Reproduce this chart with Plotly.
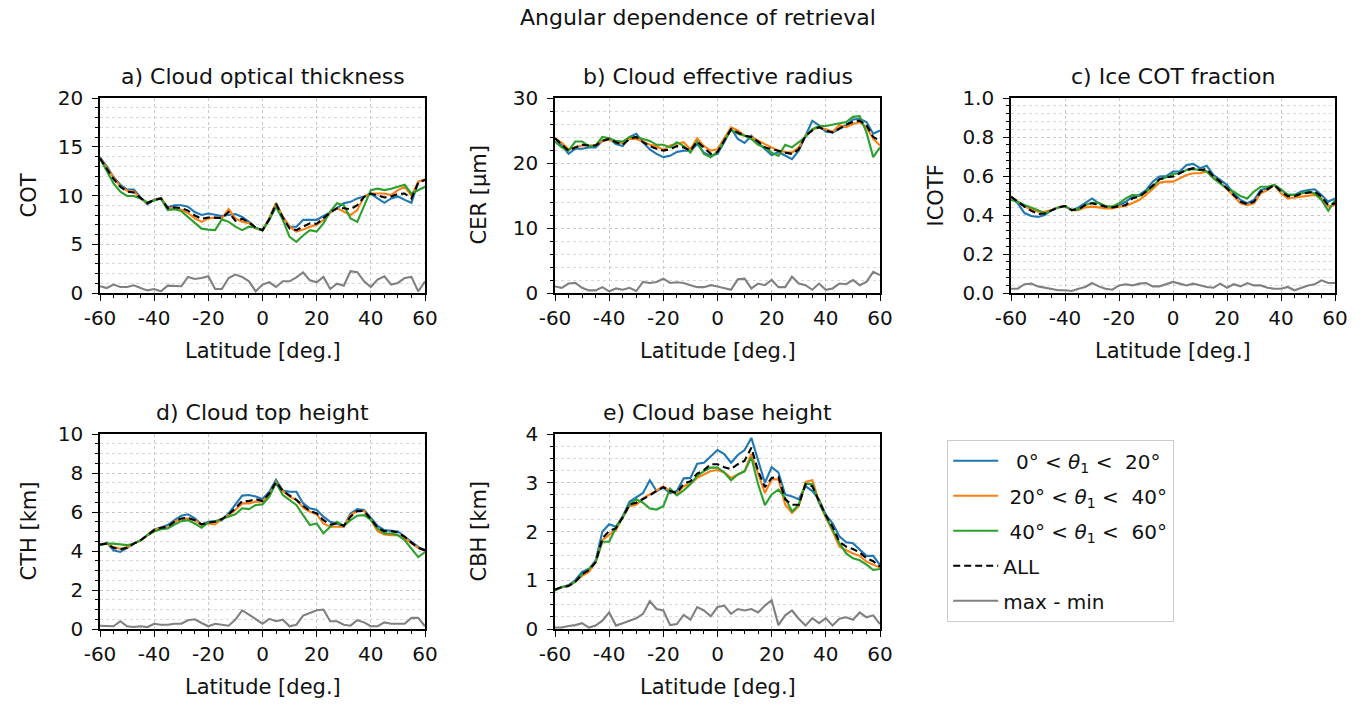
import plotly.graph_objects as go

W, H = 1366, 707

lat = [-60, -57.5, -55, -52.5, -50, -47.5, -45, -42.5, -40, -37.5, -35, -32.5, -30,
       -27.5, -25, -22.5, -20, -17.5, -15, -12.5, -10, -7.5, -5, -2.5, 0,
       2.5, 5, 7.5, 10, 12.5, 15, 17.5, 20, 22.5, 25, 27.5, 30, 32.5, 35,
       37.5, 40, 42.5, 45, 47.5, 50, 52.5, 55, 57.5, 60]

x_ticks = [-60, -40, -20, 0, 20, 40, 60]
x_ticklabels = ["-60", "-40", "-20", "0", "20", "40", "60"]

series_names = ["\u00a0\u00a00° &lt; <i>θ</i><sub>1</sub> &lt;\u00a0\u00a020°",
                "\u00a020° &lt; <i>θ</i><sub>1</sub> &lt;\u00a0\u00a040°",
                "\u00a040° &lt; <i>θ</i><sub>1</sub> &lt;\u00a0\u00a060°",
                "ALL", "max - min"]

# ---- a) COT ----
cot_0_20 = [13.9, 13.0, 11.9, 11.1, 10.6, 10.6, 9.8, 9.1, 9.6, 9.7, 8.8, 9.0, 9.0,
            8.85, 8.3, 8.0, 8.15, 8.0, 7.9, 8.0, 8.1, 7.8, 7.3, 6.7, 6.45,
            7.65, 9.2, 7.8, 6.8, 6.8, 7.5, 7.5, 7.5, 7.9, 8.25, 8.7, 9.2, 9.35, 9.7,
            9.9, 10.2, 9.7, 9.25, 9.7, 9.9, 9.55, 9.25, 11.4, 11.65]
cot_20_40 = [13.8, 12.8, 11.8, 10.9, 10.5, 10.4, 9.7, 9.2, 9.55, 9.75, 8.7, 8.75, 8.55,
             8.2, 7.65, 7.3, 7.65, 7.75, 7.65, 8.6, 7.65, 7.3, 7.15, 6.6, 6.45,
             7.65, 9.2, 7.8, 6.8, 6.3, 6.5, 6.8, 7.0, 7.5, 8.25, 8.7, 8.35, 8.0, 8.5,
             9.9, 10.2, 10.2, 10.2, 10.05, 10.55, 10.9, 9.95, 11.4, 11.65]
cot_40_60 = [13.8, 12.5, 11.25, 10.4, 9.95, 9.95, 9.7, 9.3, 9.5, 9.7, 8.5, 8.6, 8.4,
             7.8, 7.15, 6.6, 6.5, 6.45, 7.55, 7.3, 6.8, 6.45, 6.8, 6.7, 6.4,
             7.5, 8.85, 7.5, 5.75, 5.25, 5.9, 6.45, 6.3, 7.15, 8.35, 9.2, 9.0, 7.65, 7.3,
             8.85, 10.55, 10.7, 10.55, 10.7, 10.9, 11.1, 10.2, 10.55, 10.9]
cot_all = [13.8, 12.8, 11.7, 10.9, 10.4, 10.3, 9.7, 9.2, 9.55, 9.7, 8.7, 8.8, 8.7,
           8.45, 7.95, 7.6, 7.75, 7.7, 7.7, 8.3, 7.4, 7.6, 7.25, 6.7, 6.45,
           7.55, 9.15, 7.75, 6.6, 6.45, 6.8, 7.15, 7.1, 7.65, 8.25, 8.7, 8.7, 8.6, 9.0,
           9.85, 10.2, 10.0, 9.8, 9.9, 10.15, 10.2, 9.7, 11.3, 11.6]
cot_range = [0.69, 0.51, 0.86, 0.62, 0.62, 0.79, 0.51, 0.27, 0.41, 0.17, 0.75, 0.75, 0.69,
             1.65, 1.44, 1.54, 1.72, 0.41, 0.41, 1.54, 1.89, 1.65, 1.2, 0.17, 0.86,
             1.1, 0.62, 1.2, 1.2, 1.6, 2.1, 1.3, 1.1, 1.65, 0.41, 0.96, 0.75, 2.23, 2.13,
             1.2, 0.62, 1.37, 1.72, 0.86, 1.03, 1.54, 1.65, 0.17, 1.2]

# ---- b) CER ----
cer_0_20 = [23.8, 22.7, 21.4, 22.2, 22.2, 22.4, 22.4, 23.4, 23.7, 22.9, 22.6, 24.0, 24.5,
            23.2, 22.1, 21.4, 20.9, 21.1, 21.7, 21.9, 21.9, 22.9, 21.6, 21.1, 21.4,
            23.2, 25.3, 23.7, 23.1, 24.2, 23.1, 22.1, 21.2, 21.7, 21.2, 20.6, 21.9, 24.2, 26.5,
            25.8, 24.8, 24.7, 25.3, 25.8, 26.7, 26.8, 26.3, 24.5, 25.0]
cer_20_40 = [23.8, 23.1, 22.1, 22.4, 22.7, 22.7, 22.7, 23.4, 23.6, 23.2, 23.0, 23.7, 23.7,
             23.3, 22.8, 22.6, 22.0, 22.7, 22.9, 23.2, 22.1, 23.8, 22.6, 21.9, 22.1,
             23.7, 25.5, 25.0, 24.2, 24.0, 23.4, 22.9, 22.4, 21.9, 21.7, 21.6, 22.4, 24.2, 25.1,
             25.5, 25.2, 24.8, 25.8, 25.5, 26.0, 26.3, 25.5, 23.7, 22.7]
cer_40_60 = [23.3, 22.4, 21.9, 23.3, 23.3, 22.6, 22.7, 24.0, 23.8, 23.4, 23.3, 24.0, 24.0,
             23.7, 23.4, 22.8, 22.8, 22.4, 23.2, 22.6, 21.6, 23.3, 21.4, 20.9, 21.7,
             23.4, 25.1, 24.5, 24.2, 23.7, 22.8, 22.4, 21.6, 21.1, 22.8, 22.4, 23.2, 24.0, 25.2,
             25.7, 25.7, 25.9, 26.0, 26.3, 27.1, 27.2, 24.7, 20.9, 22.4]
cer_all = [23.8, 22.9, 21.9, 22.4, 22.8, 22.7, 22.7, 23.4, 23.7, 23.2, 22.8, 23.7, 24.0,
           23.2, 22.6, 22.2, 21.9, 22.1, 22.6, 22.4, 21.9, 23.3, 22.4, 21.4, 21.7,
           23.4, 25.2, 24.7, 24.2, 24.0, 23.3, 22.4, 22.1, 21.9, 21.6, 21.4, 22.1, 24.2, 25.0,
           25.5, 25.0, 24.7, 25.3, 25.9, 26.3, 26.5, 25.8, 24.0, 23.4]
cer_range = [1.0, 0.8, 1.45, 1.55, 0.8, 0.4, 0.4, 0.9, 0.25, 0.7, 0.5, 0.8, 0.3,
             1.7, 1.55, 1.7, 2.2, 1.55, 1.65, 1.55, 1.2, 0.9, 0.9, 1.2, 1.0,
             0.7, 0.5, 2.1, 2.2, 0.7, 1.45, 1.2, 2.0, 0.9, 0.9, 2.5, 1.45, 1.2, 0.5,
             1.45, 0.5, 0.7, 1.45, 1.35, 2.0, 1.2, 1.7, 3.25, 2.75]

# ---- c) ICOTF ----
icotf_0_20 = [0.494, 0.46, 0.41, 0.395, 0.39, 0.40, 0.425, 0.439, 0.446, 0.425, 0.439, 0.46, 0.485,
              0.46, 0.443, 0.439, 0.451, 0.468, 0.494, 0.503, 0.528, 0.571, 0.597, 0.60, 0.623,
              0.623, 0.657, 0.662, 0.64, 0.652, 0.605, 0.58, 0.554, 0.511, 0.477, 0.46, 0.477, 0.528, 0.537,
              0.554, 0.528, 0.503, 0.503, 0.52, 0.528, 0.532, 0.503, 0.468, 0.485]
icotf_20_40 = [0.494, 0.468, 0.443, 0.429, 0.417, 0.417, 0.425, 0.439, 0.446, 0.425, 0.425, 0.439, 0.443,
               0.439, 0.434, 0.434, 0.443, 0.446, 0.463, 0.477, 0.503, 0.537, 0.566, 0.571, 0.571,
               0.588, 0.605, 0.614, 0.614, 0.623, 0.593, 0.563, 0.532, 0.497, 0.46, 0.451, 0.46, 0.511, 0.528,
               0.554, 0.511, 0.485, 0.49, 0.494, 0.497, 0.503, 0.485, 0.443, 0.451]
icotf_40_60 = [0.477, 0.468, 0.451, 0.439, 0.425, 0.408, 0.425, 0.439, 0.446, 0.425, 0.43, 0.451, 0.463,
               0.463, 0.446, 0.443, 0.46, 0.485, 0.503, 0.497, 0.52, 0.545, 0.583, 0.593, 0.61,
               0.614, 0.631, 0.635, 0.631, 0.623, 0.588, 0.563, 0.537, 0.52, 0.497, 0.485, 0.52, 0.545, 0.545,
               0.554, 0.532, 0.503, 0.503, 0.51, 0.52, 0.51, 0.477, 0.422, 0.477]
icotf_all = [0.494, 0.468, 0.443, 0.422, 0.405, 0.408, 0.425, 0.439, 0.446, 0.425, 0.43, 0.451, 0.46,
             0.451, 0.443, 0.439, 0.446, 0.451, 0.486, 0.494, 0.52, 0.554, 0.583, 0.593, 0.597,
             0.614, 0.631, 0.64, 0.631, 0.635, 0.597, 0.571, 0.537, 0.503, 0.468, 0.456, 0.468, 0.52, 0.532,
             0.554, 0.52, 0.497, 0.497, 0.508, 0.514, 0.52, 0.494, 0.451, 0.46]
icotf_range = [0.022, 0.022, 0.045, 0.048, 0.034, 0.027, 0.022, 0.014, 0.014, 0.01, 0.022, 0.031, 0.051,
               0.034, 0.022, 0.017, 0.039, 0.045, 0.039, 0.048, 0.051, 0.034, 0.034, 0.045, 0.057,
               0.048, 0.039, 0.048, 0.039, 0.031, 0.027, 0.048, 0.027, 0.045, 0.034, 0.051, 0.039, 0.039, 0.027,
               0.022, 0.022, 0.031, 0.014, 0.027, 0.039, 0.045, 0.065, 0.051, 0.051]

# ---- d) CTH ----
cth_0_20 = [4.33, 4.42, 4.04, 3.95, 4.16, 4.38, 4.55, 4.81, 5.1, 5.2, 5.33, 5.58, 5.81,
            5.88, 5.67, 5.36, 5.5, 5.53, 5.58, 5.93, 6.36, 6.84, 6.87, 6.79, 6.67,
            7.04, 7.65, 7.1, 7.04, 7.04, 6.44, 6.19, 6.1, 5.76, 5.5, 5.41, 5.24, 5.93, 6.15,
            6.1, 5.71, 5.29, 5.07, 5.02, 5.0, 4.73, 4.47, 4.21, 4.04]
cth_20_40 = [4.33, 4.38, 4.2, 4.12, 4.2, 4.38, 4.55, 4.81, 5.07, 5.19, 5.2, 5.5, 5.64,
             5.67, 5.58, 5.33, 5.41, 5.36, 5.64, 5.84, 6.1, 6.44, 6.44, 6.53, 6.53,
             6.9, 7.53, 7.08, 6.79, 6.62, 6.22, 6.01, 5.88, 5.41, 5.24, 5.24, 5.24, 5.84, 6.05,
             6.05, 5.6, 5.02, 4.85, 4.81, 4.81, 4.64, 4.38, 4.16, 4.0]
cth_40_60 = [4.3, 4.38, 4.38, 4.33, 4.3, 4.38, 4.55, 4.81, 5.0, 5.12, 5.15, 5.36, 5.53,
             5.58, 5.41, 5.19, 5.46, 5.53, 5.64, 5.76, 5.88, 6.19, 6.15, 6.36, 6.39,
             6.79, 7.5, 6.87, 6.62, 6.36, 5.84, 5.33, 5.41, 4.9, 5.24, 5.5, 5.29, 5.58, 5.81,
             5.84, 5.6, 5.15, 4.9, 4.9, 4.81, 4.55, 4.12, 3.69, 3.95]
cth_all = [4.33, 4.38, 4.16, 4.09, 4.16, 4.38, 4.55, 4.81, 5.07, 5.19, 5.24, 5.5, 5.67,
           5.7, 5.58, 5.36, 5.46, 5.5, 5.64, 5.88, 6.19, 6.56, 6.56, 6.67, 6.56,
           6.96, 7.53, 7.08, 6.87, 6.62, 6.32, 6.05, 5.93, 5.58, 5.36, 5.41, 5.29, 5.76, 6.05,
           6.05, 5.64, 5.19, 5.02, 5.02, 4.95, 4.73, 4.43, 4.16, 4.04]
cth_range = [0.17, 0.14, 0.14, 0.4, 0.14, 0.1, 0.14, 0.1, 0.27, 0.22, 0.22, 0.27, 0.27,
             0.45, 0.5, 0.31, 0.14, 0.27, 0.22, 0.17, 0.48, 0.95, 0.74, 0.52, 0.27,
             0.52, 0.4, 0.48, 0.14, 0.22, 0.69, 0.82, 0.96, 1.0, 0.4, 0.4, 0.22, 0.17, 0.45,
             0.34, 0.14, 0.14, 0.34, 0.27, 0.27, 0.27, 0.57, 0.57, 0.14]

# ---- e) CBH ----
cbh_0_20 = [0.81, 0.86, 0.9, 1.0, 1.17, 1.23, 1.4, 2.0, 2.15, 2.1, 2.31, 2.61, 2.7,
            2.79, 3.05, 2.83, 2.9, 2.79, 2.83, 3.09, 3.1, 3.39, 3.41, 3.55, 3.67,
            3.59, 3.41, 3.57, 3.67, 3.92, 3.45, 3.0, 3.32, 3.21, 2.76, 2.72, 2.66, 2.93, 2.83,
            2.66, 2.34, 2.17, 1.9, 1.78, 1.76, 1.62, 1.5, 1.5, 1.31]
cbh_20_40 = [0.81, 0.86, 0.88, 0.97, 1.09, 1.17, 1.37, 1.83, 1.93, 2.03, 2.29, 2.52, 2.55,
             2.68, 2.76, 2.84, 2.93, 2.83, 2.76, 2.93, 2.98, 3.1, 3.17, 3.24, 3.26,
             3.21, 3.1, 3.17, 3.24, 3.59, 3.17, 2.79, 3.07, 3.07, 2.55, 2.38, 2.52, 3.02, 3.05,
             2.62, 2.28, 2.01, 1.69, 1.62, 1.55, 1.5, 1.38, 1.32, 1.26]
cbh_40_60 = [0.79, 0.86, 0.88, 0.97, 1.12, 1.23, 1.37, 1.79, 1.79, 2.08, 2.29, 2.55, 2.66,
             2.59, 2.47, 2.45, 2.52, 2.88, 2.74, 2.84, 2.97, 3.14, 3.24, 3.31, 3.31,
             3.21, 3.05, 3.17, 3.23, 3.52, 2.97, 2.54, 2.76, 2.86, 2.69, 2.41, 2.55, 2.98, 2.97,
             2.59, 2.31, 2.03, 1.76, 1.55, 1.45, 1.41, 1.32, 1.21, 1.23]
cbh_all = [0.81, 0.86, 0.88, 0.97, 1.12, 1.21, 1.37, 1.86, 2.01, 2.07, 2.29, 2.55, 2.59,
           2.66, 2.74, 2.83, 2.91, 2.83, 2.79, 2.98, 3.03, 3.19, 3.26, 3.38, 3.38,
           3.32, 3.28, 3.38, 3.45, 3.72, 3.24, 2.91, 3.1, 3.12, 2.66, 2.55, 2.55, 2.97, 2.93,
           2.62, 2.33, 2.1, 1.79, 1.69, 1.64, 1.57, 1.45, 1.39, 1.28]
cbh_range = [0.03, 0.03, 0.06, 0.08, 0.12, 0.03, 0.07, 0.17, 0.34, 0.07, 0.12, 0.17, 0.22,
             0.31, 0.57, 0.41, 0.38, 0.08, 0.1, 0.29, 0.19, 0.45, 0.38, 0.26, 0.45,
             0.48, 0.31, 0.41, 0.38, 0.41, 0.34, 0.48, 0.59, 0.08, 0.28, 0.38, 0.21, 0.07, 0.22,
             0.12, 0.22, 0.07, 0.21, 0.24, 0.19, 0.34, 0.24, 0.28, 0.1]

panel_titles = ["a) Cloud optical thickness", "b) Cloud effective radius", "c) Ice COT fraction",
                "d) Cloud top height", "e) Cloud base height"]
y_labels = ["COT", "CER [µm]", "ICOTF", "CTH [km]", "CBH [km]"]
x_label = "Latitude [deg.]"
suptitle = "Angular dependence of retrieval"

panels = [
    dict(data=[cot_0_20, cot_20_40, cot_40_60, cot_all, cot_range], yr=[0, 20], dt=5, mdt=1, fmt=""),
    dict(data=[cer_0_20, cer_20_40, cer_40_60, cer_all, cer_range], yr=[0, 30], dt=10, mdt=2, fmt=""),
    dict(data=[icotf_0_20, icotf_20_40, icotf_40_60, icotf_all, icotf_range], yr=[0, 1.0], dt=0.2, mdt=0.04, fmt=".1f"),
    dict(data=[cth_0_20, cth_20_40, cth_40_60, cth_all, cth_range], yr=[0, 10], dt=2, mdt=0.5, fmt=""),
    dict(data=[cbh_0_20, cbh_20_40, cbh_40_60, cbh_all, cbh_range], yr=[0, 4], dt=1, mdt=0.25, fmt=""),
]

# pixel boxes of the axes (left, right, top, bottom)
boxes = [(100, 425, 98, 293), (555, 880, 98, 293), (1011, 1335, 98, 293),
         (100, 425, 434, 629), (555, 880, 434, 629)]
ylabel_x = [28, 478, 935, 28, 478]

colors = ["#1f77b4", "#ff7f0e", "#2ca02c", "black", "#808080"]
dashes = ["solid", "solid", "solid", "7px,4px", "solid"]

FONT = "DejaVu Sans"
TXT = "#111111"

def px(x):
    return x / W

def py(y):
    return 1 - y / H

fig = go.Figure()
annotations = []
layout = {}

for i, p in enumerate(panels):
    n = "" if i == 0 else str(i + 1)
    L, R, T, B = boxes[i]
    for k in range(5):
        fig.add_trace(go.Scatter(
            x=lat, y=p["data"][k], mode="lines",
            line=dict(color=colors[k], width=2.1, dash=dashes[k]),
            name=series_names[k], legendgroup="g%d" % k,
            showlegend=(i == 0),
            xaxis="x" + n, yaxis="y" + n,
        ))
    common = dict(showline=True, linecolor="black", linewidth=1.6, mirror=True,
                  ticks="outside", ticklen=6, tickwidth=1.4, tickcolor="black",
                  tickfont=dict(family=FONT, size=20, color=TXT), zeroline=False,
                  automargin=False,
                  gridcolor="#c8c8c8", griddash="dot", gridwidth=1, showgrid=True)
    layout["xaxis" + n] = dict(
        domain=[px(L), px(R)], anchor="y" + n, range=[-60, 60],
        tickmode="array", tickvals=x_ticks, ticktext=x_ticklabels,
        minor=dict(dtick=5, tick0=-60, ticks="outside", ticklen=3.5, tickwidth=1.2,
                   tickcolor="black", showgrid=False),
        **common)
    layout["yaxis" + n] = dict(
        domain=[py(B), py(T)], anchor="x" + n, range=p["yr"],
        tick0=0, dtick=p["dt"], tickformat=p["fmt"], ticklabelstandoff=5,
        minor=dict(dtick=p["mdt"], tick0=0, ticks="outside", ticklen=3.5, tickwidth=1.2,
                   tickcolor="black", showgrid=True, gridcolor="#d8d8d8",
                   griddash="dot", gridwidth=1),
        **common)
    cx = (L + R) / 2
    annotations.append(dict(text=panel_titles[i], x=px(cx), y=py(T - 22), xref="paper", yref="paper",
                            xanchor="center", yanchor="middle", showarrow=False,
                            font=dict(family=FONT, size=22, color=TXT)))
    annotations.append(dict(text=x_label, x=px(cx), y=py(B + 58), xref="paper", yref="paper",
                            xanchor="center", yanchor="middle", showarrow=False,
                            font=dict(family=FONT, size=21, color=TXT)))
    annotations.append(dict(text=y_labels[i], x=px(ylabel_x[i]), y=py((T + B) / 2), xref="paper",
                            yref="paper", xanchor="center", yanchor="middle", textangle=-90,
                            showarrow=False, font=dict(family=FONT, size=21, color=TXT)))

annotations.append(dict(text=suptitle, x=px(698), y=py(18), xref="paper", yref="paper",
                        xanchor="center", yanchor="middle", showarrow=False,
                        font=dict(family=FONT, size=22, color=TXT)))

fig.update_layout(
    width=W, height=H, margin=dict(l=0, r=0, t=0, b=0, autoexpand=False),
    paper_bgcolor="white", plot_bgcolor="white",
    annotations=annotations,
    legend=dict(x=px(947), y=py(440), xanchor="left", yanchor="top",
                bgcolor="white", bordercolor="#cccccc", borderwidth=1.2,
                font=dict(family=FONT, size=20, color=TXT),
                traceorder="grouped", tracegroupgap=6, itemwidth=45),
    **layout,
)

fig.write_html("out.html")
